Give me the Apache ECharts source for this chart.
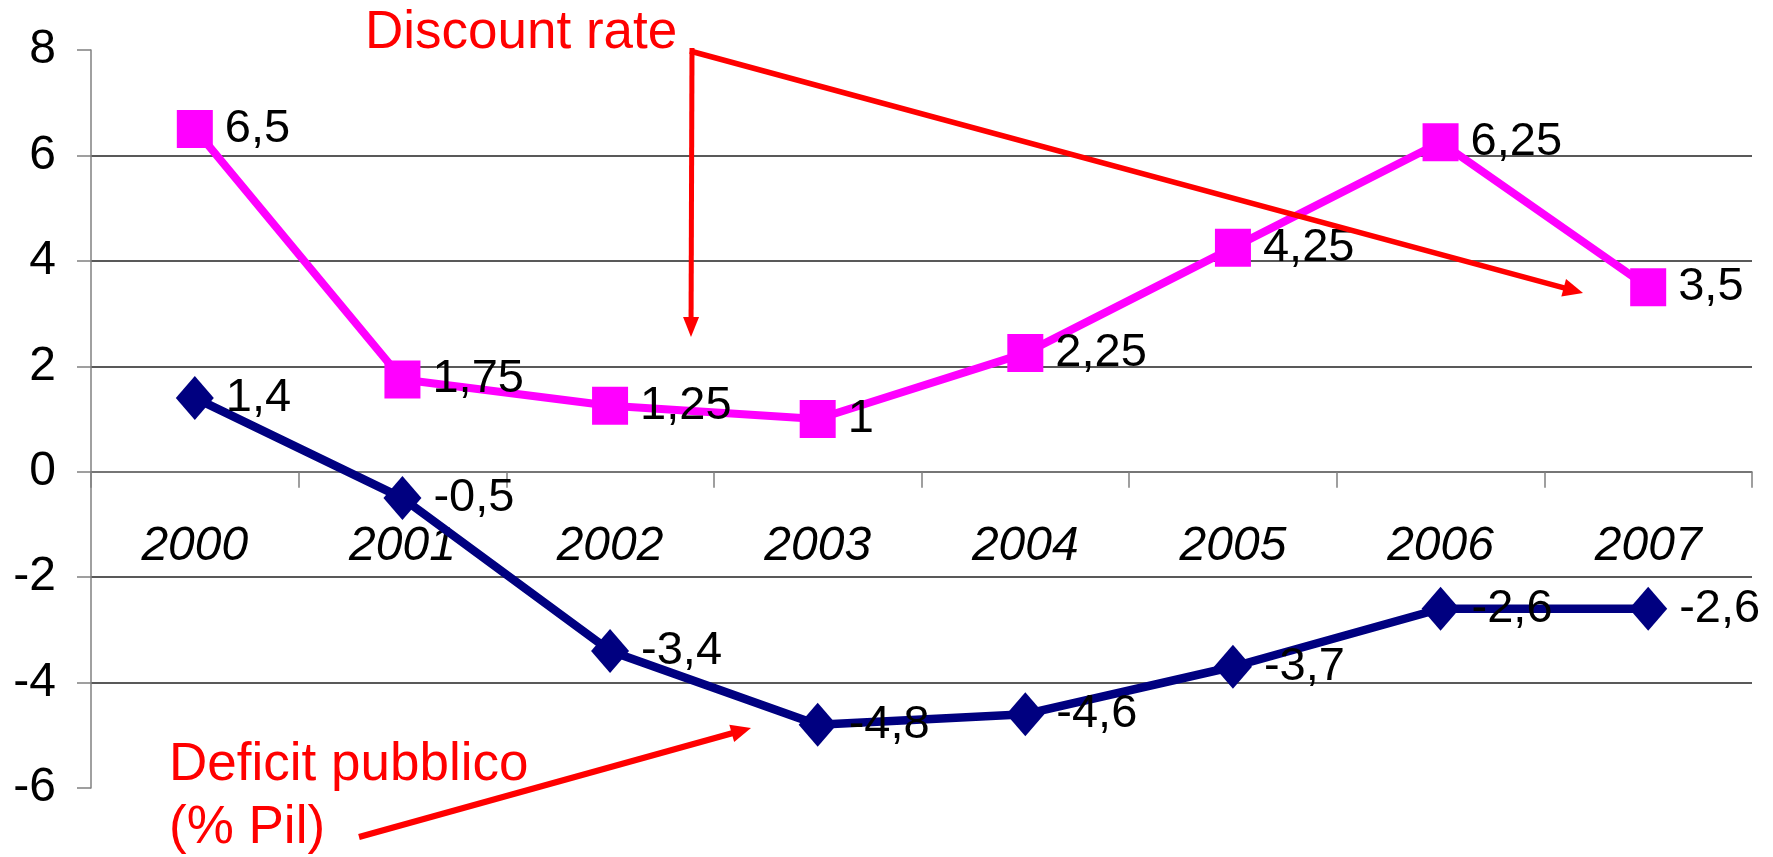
<!DOCTYPE html>
<html><head><meta charset="utf-8">
<script src="https://cdn.jsdelivr.net/npm/echarts@6/dist/echarts.min.js"></script>
<style>html,body{margin:0;padding:0;background:#fff}#c{width:1773px;height:857px}</style>
</head><body><div id="c"></div>
<script>
const years = ['2000','2001','2002','2003','2004','2005','2006','2007'];
const discountRate = [6.5, 1.75, 1.25, 1, 2.25, 4.25, 6.25, 3.5];
const deficitPil = [1.4, -0.5, -3.4, -4.8, -4.6, -3.7, -2.6, -2.6];
const yMin = -6, yMax = 8, yStep = 2;
const noteDiscount = 'Discount rate';
const noteDeficit = ['Deficit pubblico', '(% Pil)'];

const FONT = 'Liberation Sans, Arial, sans-serif';
const RED = '#ff0000';
const fmt = v => String(v).replace('.', ',');

const GRID = {left: 91, right: 21, top: 50, bottom: 69};
const plotH = 857 - GRID.top - GRID.bottom;
const zeroOffset = -plotH * (0 - yMin) / (yMax - yMin);

function arrowHead(x1, y1, x2, y2, len, half) {
  const a = Math.atan2(y2 - y1, x2 - x1);
  const bx = x2 - len * Math.cos(a), by = y2 - len * Math.sin(a);
  const px = -Math.sin(a) * half, py = Math.cos(a) * half;
  return {type: 'polygon', z: 100, shape: {points: [[x2, y2], [bx + px, by + py], [bx - px, by - py]]}, style: {fill: RED}};
}
function arrowLine(x1, y1, x2, y2, w, len) {
  const a = Math.atan2(y2 - y1, x2 - x1);
  return {type: 'line', z: 100, shape: {x1: x1, y1: y1, x2: x2 - (len - 2) * Math.cos(a), y2: y2 - (len - 2) * Math.sin(a)}, style: {stroke: RED, lineWidth: w}};
}

const chart = echarts.init(document.getElementById('c'), null, {renderer: 'canvas'});
const labelStyle = {show: true, position: 'right', distance: 12, fontSize: 47, color: '#000', fontFamily: FONT, formatter: p => fmt(p.value)};

chart.setOption({
  animation: false,
  backgroundColor: '#fff',
  textStyle: {fontFamily: FONT},
  grid: Object.assign({outerBoundsMode: 'none', containLabel: false}, GRID),
  xAxis: {
    type: 'category', data: years, boundaryGap: true,
    position: 'bottom', offset: zeroOffset,
    axisLine: {onZero: false, lineStyle: {color: '#808080', width: 1.5}},
    axisTick: {show: true, inside: false, length: 16, lineStyle: {color: '#808080', width: 1.5}},
    axisLabel: {fontSize: 48, fontStyle: 'italic', color: '#000', margin: 51, fontFamily: FONT},
    splitLine: {show: false}
  },
  yAxis: {
    type: 'value', min: yMin, max: yMax, interval: yStep,
    axisLine: {show: true, lineStyle: {color: '#808080', width: 1.5}},
    axisTick: {show: true, length: 14, lineStyle: {color: '#808080', width: 1.5}},
    axisLabel: {fontSize: 48, color: '#000', margin: 35, fontFamily: FONT},
    splitLine: {show: true, showMinLine: false, showMaxLine: false, lineStyle: {color: '#222', width: 1.5}}
  },
  series: [
    {
      name: 'Discount rate', type: 'line', data: discountRate,
      symbol: 'rect', symbolSize: [36, 38],
      lineStyle: {color: '#ff00ff', width: 8},
      itemStyle: {color: '#ff00ff'},
      label: labelStyle
    },
    {
      name: 'Deficit pubblico (% Pil)', type: 'line', data: deficitPil,
      symbol: 'diamond', symbolSize: [38, 44],
      lineStyle: {color: '#000080', width: 8.5},
      itemStyle: {color: '#000080'},
      label: labelStyle
    }
  ],
  graphic: [
    {type: 'text', z: 100, style: {text: noteDiscount, x: 365, y: 33, fill: RED, fontSize: 53, fontFamily: FONT, verticalAlign: 'middle'}},
    {type: 'text', z: 100, style: {text: noteDeficit[0], x: 169, y: 765, fill: RED, fontSize: 53, fontFamily: FONT, verticalAlign: 'middle'}},
    {type: 'text', z: 100, style: {text: noteDeficit[1], x: 169, y: 828, fill: RED, fontSize: 53, fontFamily: FONT, verticalAlign: 'middle'}},
    arrowLine(692, 48, 691, 337, 5, 16),
    arrowHead(692, 48, 691, 337, 20, 8),
    arrowLine(690, 51, 1583, 293, 5.5, 16),
    arrowHead(690, 51, 1583, 293, 20, 9),
    arrowLine(359, 837, 751, 728, 6, 16),
    arrowHead(359, 837, 751, 728, 20, 9)
  ]
});
</script>
</body></html>
